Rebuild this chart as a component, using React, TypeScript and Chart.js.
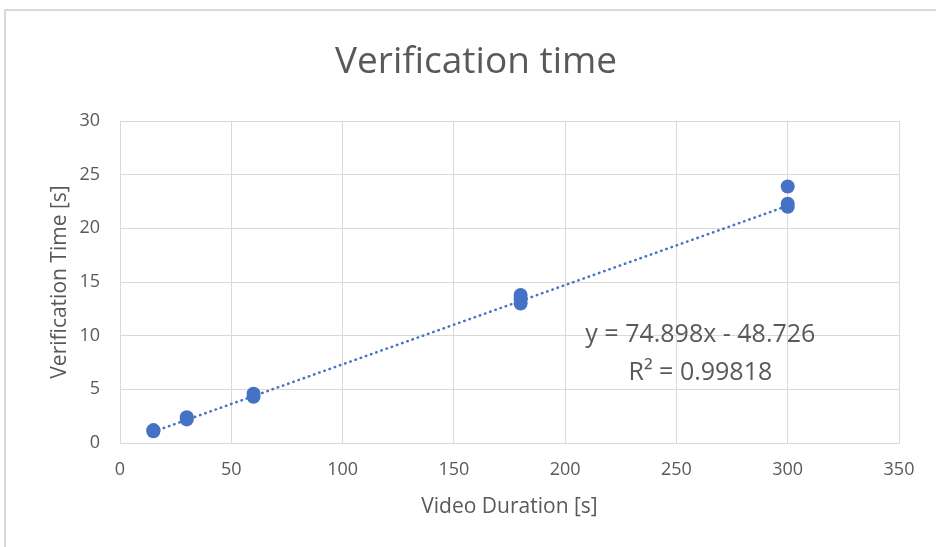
import React, { useEffect, useRef } from "react";
import { Chart, registerables } from "chart.js";

Chart.register(...registerables);

const durations = [15, 15, 30, 30, 60, 60, 180, 180, 180, 300, 300, 300];
const verificationTimes = [1.1, 1.2, 2.2, 2.4, 4.3, 4.6, 13.0, 13.4, 13.8, 22.0, 22.3, 23.9];
const trendX = [15, 300];
const trendY = [1.05, 22.1];
const titleText = "Verification time";
const equationLines = ["y = 74.898x - 48.726", "R² = 0.99818"];
const xTicks = [0, 50, 100, 150, 200, 250, 300, 350];
const yTicks = [0, 5, 10, 15, 20, 25, 30];

const FONT = "'Open Sans', 'Noto Sans', sans-serif";
const TEXT = "#595959";
const GRID = "#d9d9d9";
const BLUE = "#4472C4";

export default function App() {
  const ref = useRef<HTMLCanvasElement | null>(null);

  useEffect(() => {
    document.body.style.margin = "0";
    const canvas = ref.current!;
    const textPlugin = {
      id: "texts",
      afterDatasetsDraw(chart: any) {
        const { ctx, chartArea } = chart;
        const w = chartArea.right - chartArea.left;
        const h = chartArea.bottom - chartArea.top;
        ctx.save();
        ctx.fillStyle = TEXT;
        ctx.textAlign = "center";
        ctx.textBaseline = "middle";
        ctx.font = `37px ${FONT}`;
        ctx.fillText(titleText, chartArea.left + w * 0.457, 62);
        ctx.font = `25px ${FONT}`;
        const cx = chartArea.left + w * 0.745;
        ctx.fillText(equationLines[0], cx, chartArea.top + h * 0.665);
        ctx.fillText(equationLines[1], cx, chartArea.top + h * 0.783);
        ctx.restore();
      },
    };
    const chart = new Chart(canvas, {
      type: "scatter",
      data: {
        datasets: [
          {
            label: "trend",
            type: "line",
            data: trendX.map((x, i) => ({ x, y: trendY[i] })),
            borderColor: BLUE,
            borderWidth: 2.5,
            borderDash: [0.5, 5],
            borderCapStyle: "round",
            pointRadius: 0,
            fill: false,
          } as any,
          {
            label: "data",
            data: durations.map((x, i) => ({ x, y: verificationTimes[i] })),
            backgroundColor: BLUE,
            borderColor: BLUE,
            pointRadius: 7,
            borderWidth: 0,
          },
        ],
      },
      options: {
        animation: false,
        responsive: false,
        layout: { padding: { left: 0, right: 37, top: 121, bottom: 0 } },
        plugins: {
          legend: { display: false },
          tooltip: { enabled: false },
          title: { display: false },
        },
        scales: {
          x: {
            type: "linear",
            min: 0,
            max: 350,
            afterBuildTicks: (s: any) => {
              s.ticks = xTicks.map((v) => ({ value: v }));
            },
            afterFit: (s: any) => {
              s.height = 104;
            },
            ticks: { color: TEXT, font: { family: FONT, size: 18 }, padding: 16 },
            grid: { color: GRID, drawTicks: false },
            border: { color: GRID },
            title: {
              display: true,
              text: "Video Duration [s]",
              color: TEXT,
              font: { family: FONT, size: 21 },
              padding: { top: 0, bottom: 27 },
            },
          },
          y: {
            type: "linear",
            min: 0,
            max: 30,
            afterBuildTicks: (s: any) => {
              s.ticks = yTicks.map((v) => ({ value: v }));
            },
            afterFit: (s: any) => {
              s.width = 120;
            },
            ticks: { color: TEXT, font: { family: FONT, size: 18 }, padding: 20 },
            grid: { color: GRID, drawTicks: false },
            border: { color: GRID },
            title: {
              display: true,
              text: "Verification Time [s]",
              color: TEXT,
              font: { family: FONT, size: 21 },
              padding: { top: 47, bottom: 0 },
            },
          },
        },
      },
      plugins: [textPlugin],
    });
    return () => chart.destroy();
  }, []);

  return (
    <div style={{ position: "relative", width: 936, height: 547, overflow: "hidden", background: "#fff" }}>
      <div
        style={{
          position: "absolute",
          left: 4,
          top: 9,
          width: 960,
          height: 560,
          border: "2px solid #d9d9d9",
          boxSizing: "border-box",
        }}
      />
      <canvas ref={ref} width={936} height={547} style={{ position: "absolute", left: 0, top: 0 }} />
    </div>
  );
}
